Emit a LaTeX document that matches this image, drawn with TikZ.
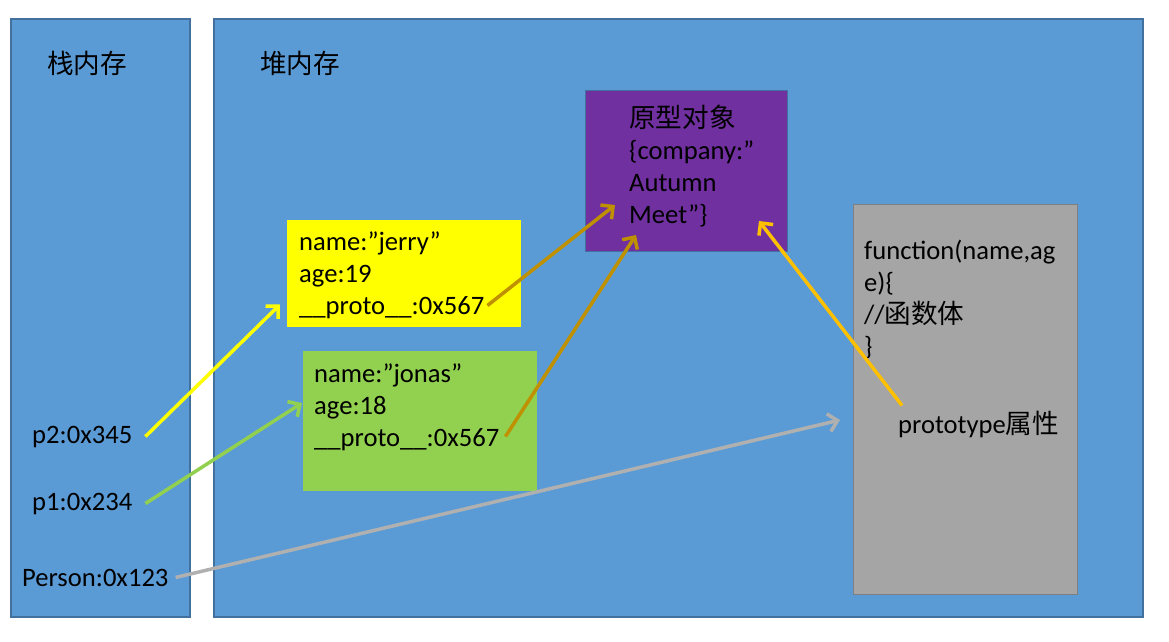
\documentclass[tikz,border=0pt]{standalone}
\usepackage{fontspec}
\setmainfont{Carlito}
\newfontfamily\cjk{Noto Sans CJK SC}
\usetikzlibrary{arrows.meta}
\definecolor{memblue}{HTML}{5B9BD5}
\definecolor{memline}{HTML}{41719C}
\definecolor{objyellow}{HTML}{FFFF00}
\definecolor{objgreen}{HTML}{92D050}
\definecolor{protopurple}{HTML}{7030A0}
\definecolor{funcgray}{HTML}{A5A5A5}
\definecolor{funcline}{HTML}{7F7F7F}
\definecolor{linkgold}{HTML}{BF9000}
\definecolor{linkorange}{HTML}{FFC000}
\definecolor{linkgray}{HTML}{B0B0B0}
\begin{document}
\begin{tikzpicture}[x=1pt,y=-1pt,
		box/.style={rectangle, anchor=north west, inner sep=0pt, outer sep=0pt},
		txt/.style={anchor=base west, inner sep=0pt, align=left, font=\fontsize{26.6}{32}\selectfont},
		link/.style={line width=3.5pt, -{Straight Barb[length=9pt,width=18pt]}}]
		\fill[white] (0,0) rectangle (1169,642);
		\useasboundingbox (0,0) rectangle (1169,642);
		\node[box, fill=memblue, draw=memline, line width=1.2pt, minimum width=179, minimum height=598] (stack) at (11,19) {};
		\node[box, fill=memblue, draw=memline, line width=1.2pt, minimum width=929, minimum height=598] (heap) at (214,19) {};
		\node[box, fill=protopurple, draw=memline, line width=1pt, minimum width=202, minimum height=161] (proto) at (585,90) {};
		\node[box, fill=objyellow, minimum width=234, minimum height=107] (jerry) at (287,220) {};
		\node[box, fill=objgreen, minimum width=234, minimum height=140] (jonas) at (303,351) {};
		\node[box, fill=funcgray, draw=funcline, line width=1pt, minimum width=224, minimum height=390] (func) at (853,204) {};
		
		\node[txt] (stacklbl) at (47,74) {\cjk 栈内存};
		\node[txt] (heaplbl) at (260,74) {\cjk 堆内存};
		\node[txt] (prototxt) at (629,223) {{\cjk 原型对象}\\\{company:”\\Autumn\\Meet”\}};
		\node[txt] (jerrytxt) at (299,314) {name:”jerry”\\age:19\\\_\_proto\_\_:0x567};
		\node[txt] (jonastxt) at (314,446) {name:”jonas”\\age:18\\\_\_proto\_\_:0x567};
		\node[txt] (functxt) at (864,355) {function(name,ag\\e)\{\\//{\cjk 函数体}\\\}};
		\node[txt] (ptattr) at (898,433) {prototype{\cjk 属性}};
		\node[txt] (p2) at (32,443) {p2:0x345};
		\node[txt] (p1) at (32,510) {p1:0x234};
		\node[txt] (person) at (22,586) {Person:0x123};
		
		\draw[link, draw=objyellow] ([xshift=13]p2.east) -- ([xshift=-7,yshift=-31]jerry.west);
		\draw[link, draw=objgreen] ([xshift=13]p1.east) -- ([xshift=-1,yshift=18]jonas.west);
		\draw[link, draw=linkgray] ([xshift=7]person.east) -- ([xshift=-13,yshift=-21]func.west);
		\draw[link, draw=linkgold] ([xshift=3,yshift=13]jerrytxt.south east) -- ([xshift=30,yshift=46]proto.south west);
		\draw[link, draw=linkgold] ([xshift=6,yshift=14]jonastxt.south east) -- ([xshift=51,yshift=16]proto.south west);
		\draw[link, draw=linkorange] ([xshift=4,yshift=5]ptattr.north west) -- ([xshift=-28,yshift=30]proto.south east);
\end{tikzpicture}
\end{document}
